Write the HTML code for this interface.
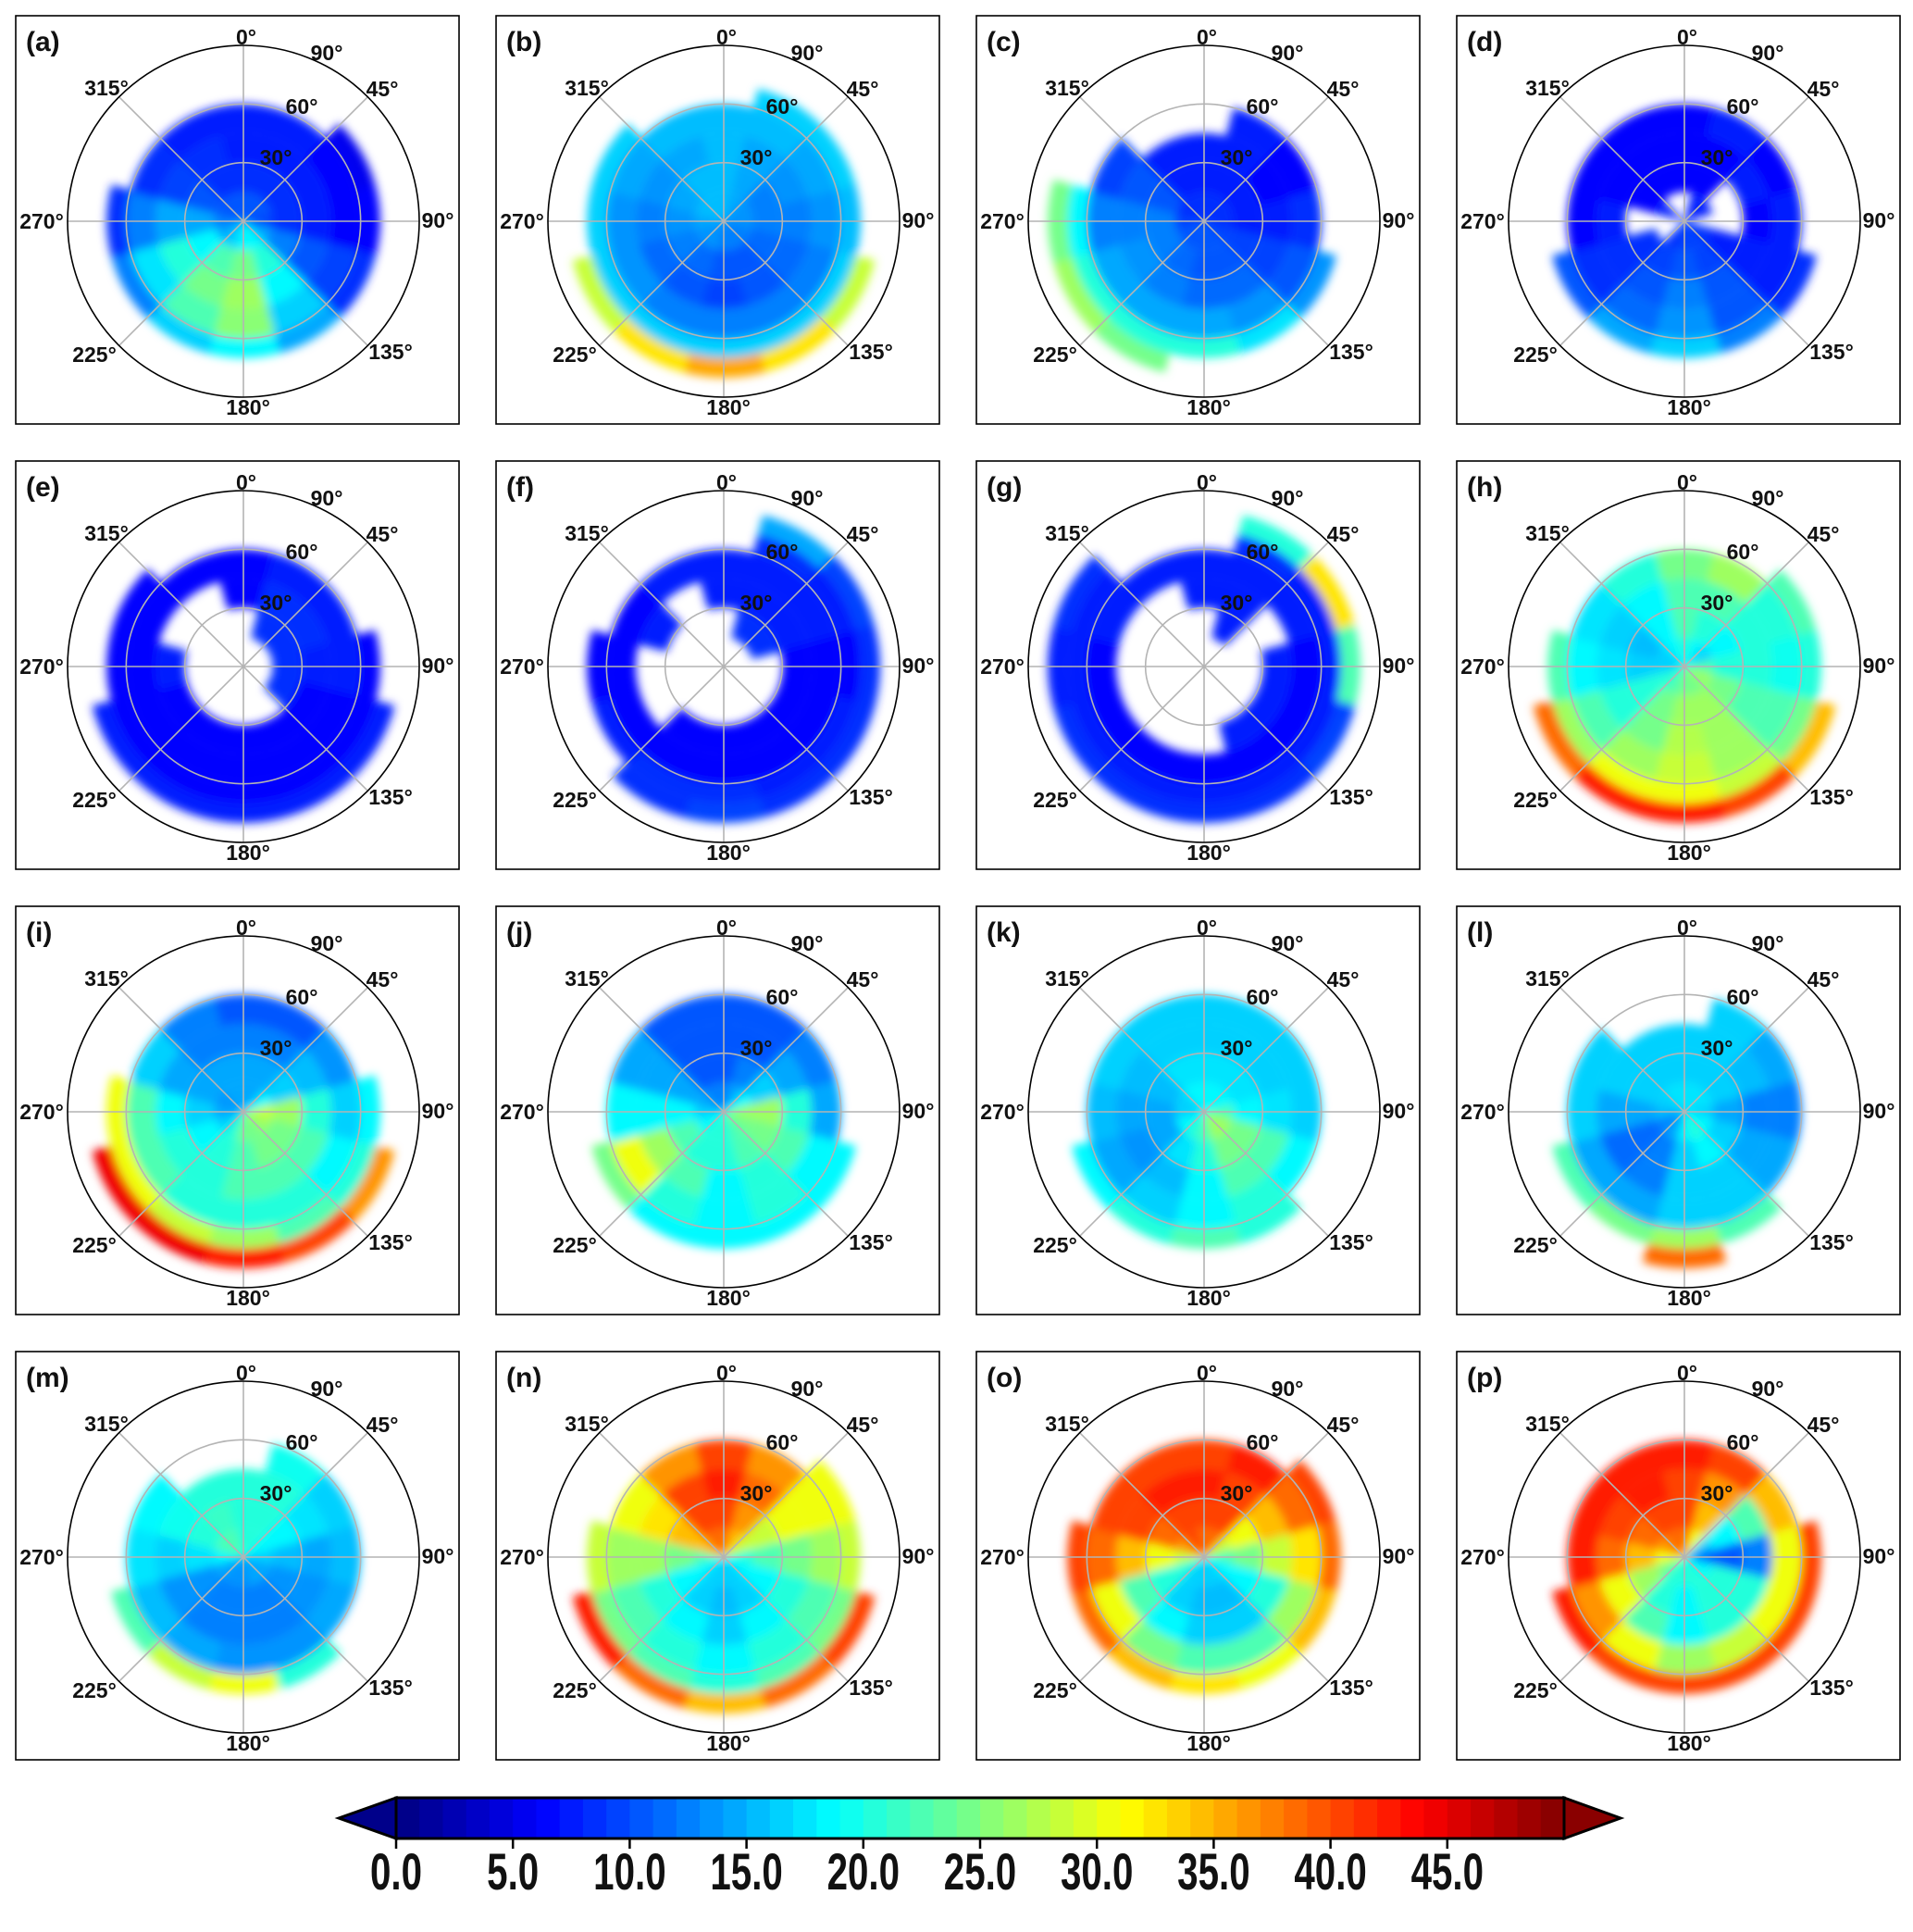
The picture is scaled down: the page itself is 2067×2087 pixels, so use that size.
<!DOCTYPE html>
<html><head><meta charset="utf-8">
<style>
html,body{margin:0;padding:0;background:#fff;}
svg{display:block;}
text{font-family:"Liberation Sans",sans-serif;font-weight:bold;fill:#111;}
</style></head>
<body>
<svg id="fig" width="2067" height="2087" viewBox="0 0 2067 2087" xmlns="http://www.w3.org/2000/svg">
<defs>
<filter id="soft" x="-10%" y="-10%" width="120%" height="120%"><feGaussianBlur stdDeviation="5"/></filter>
</defs>
</svg>
<script>
// azimuth sector centres (deg, clockwise from north) and zenith ring edges (deg)
const sectorAngles = [0,30,60,90,120,150,180,210,240,270,300,330];
const ringEdges = [0,15,30,45,60,70,80];
const panelLabels = ["(a)","(b)","(c)","(d)","(e)","(f)","(g)","(h)","(i)","(j)","(k)","(l)","(m)","(n)","(o)","(p)"];
const N = null;
const panelA = [[10,10,10,9,14,18,18,16,14,12,10,10],[8,8,8,8,12,20,24,22,18,14,10,8],[7,7,7,7,10,18,26,24,20,14,9,8],[7,7,6,6,9,16,25,22,17,12,8,7],[N,N,5,6,8,14,18,16,12,8,N,N],[N,N,N,N,N,N,N,N,N,N,N,N]];
const panelB = [[15,14,13,13,12,12,12,13,13,14,15,15],[15,14,12,12,11,10,10,11,12,13,14,15],[15,14,13,12,11,10,9,10,11,12,13,14],[15,15,14,13,12,12,12,12,13,13,14,15],[N,16,16,15,16,16,16,16,16,16,16,N],[N,N,N,N,28,32,35,32,28,N,N,N]];
const panelC = [[8,8,8,8,9,10,10,10,10,9,8,8],[7,7,7,7,9,10,10,11,12,12,10,7],[7,7,6,7,9,11,11,12,13,12,10,7],[N,7,6,8,10,13,14,14,14,12,9,N],[N,N,N,N,13,17,20,20,20,18,N,N],[N,N,N,N,N,N,N,24,26,24,N,N]];
const panelD = [[N,7,7,N,8,9,9,8,N,N,7,N],[6,6,N,N,7,9,10,9,8,N,6,6],[6,6,7,6,7,10,12,10,8,7,6,6],[6,7,6,7,7,10,13,11,8,6,6,6],[N,N,N,N,8,12,16,14,10,N,N,N],[N,N,N,N,N,N,N,N,N,N,N,N]];
const panelE = [[N,N,N,N,N,N,N,N,N,N,N,N],[N,8,8,8,8,N,N,N,N,N,N,N],[6,8,8,7,6,6,6,6,6,7,N,N],[6,7,7,7,6,6,6,6,6,6,6,6],[N,N,N,6,6,6,6,6,6,6,6,N],[N,N,N,N,7,7,7,7,7,N,N,N]];
const panelF = [[N,N,N,N,N,N,N,N,N,N,N,N],[N,8,8,N,N,N,N,N,N,N,N,N],[7,7,7,6,6,6,6,6,N,N,7,N],[7,7,7,6,6,6,6,6,6,6,6,7],[N,8,7,6,7,7,8,8,7,6,N,N],[N,14,9,8,8,8,9,8,N,N,N,N]];
const panelG = [[N,N,N,N,N,N,N,N,N,N,N,N],[N,7,N,N,N,N,N,N,N,N,N,N],[7,7,N,7,7,7,N,N,N,N,N,N],[7,7,7,6,6,6,6,6,6,6,7,7],[N,8,7,7,7,7,7,7,7,7,7,N],[N,20,32,22,9,8,8,8,8,7,8,N]];
const panelH = [[20,18,16,22,26,24,24,22,20,16,16,18],[22,20,18,20,24,26,26,24,20,16,15,18],[22,22,20,20,22,26,27,24,20,17,16,18],[24,26,20,19,22,26,28,26,22,18,17,20],[N,N,22,20,24,28,30,30,26,22,N,N],[N,N,N,N,34,40,42,42,38,N,N,N]];
const panelI = [[14,14,18,28,26,24,24,20,16,14,13,14],[14,14,16,26,24,24,22,20,18,16,14,14],[12,12,15,20,22,22,22,20,20,18,14,12],[10,10,13,16,18,20,20,20,22,22,16,12],[N,N,N,18,20,22,26,28,30,30,N,N],[N,N,N,N,36,40,42,44,44,N,N,N]];
const panelJ = [[12,14,18,26,24,22,20,20,18,16,14,12],[10,12,16,26,24,22,20,20,22,18,14,10],[10,10,14,20,22,20,18,22,26,18,14,10],[10,10,12,14,18,20,18,20,30,18,14,10],[N,N,N,N,18,18,18,18,24,N,N,N],[N,N,N,N,N,N,N,N,N,N,N,N]];
const panelK = [[18,18,18,22,26,26,22,20,18,16,16,18],[17,17,17,18,24,24,20,17,14,14,15,17],[16,16,16,17,22,22,18,15,13,14,15,16],[16,16,16,16,18,20,18,16,14,15,16,16],[N,N,N,N,N,20,22,20,18,N,N,N],[N,N,N,N,N,N,N,N,N,N,N,N]];
const panelL = [[17,17,17,16,18,20,18,14,12,15,16,17],[16,16,16,14,16,18,16,12,11,14,16,16],[16,16,15,12,14,16,16,12,11,14,16,16],[N,16,14,12,14,16,16,14,14,16,16,N],[N,N,N,N,N,22,26,24,22,N,N,N],[N,N,N,N,N,N,38,N,N,N,N,N]];
const panelM = [[20,20,18,16,14,14,13,13,14,18,22,22],[20,20,18,15,13,12,12,12,13,17,20,21],[20,20,17,14,13,12,12,12,13,16,19,20],[N,19,16,15,14,13,13,14,15,17,18,N],[N,N,N,N,N,20,30,28,22,N,N,N],[N,N,N,N,N,N,N,N,N,N,N,N]];
const panelN = [[38,34,28,20,18,16,16,16,18,22,34,38],[40,36,28,22,18,16,15,16,18,24,34,40],[42,38,30,24,20,18,16,18,20,26,32,40],[40,36,30,26,22,20,18,20,22,26,30,36],[N,N,30,28,24,22,20,22,24,28,N,N],[N,N,N,N,40,38,34,38,42,N,N,N]];
const panelO = [[38,38,28,22,18,16,16,16,20,28,36,40],[40,40,30,24,18,15,15,16,20,30,38,40],[42,40,34,28,20,16,16,18,22,34,40,42],[40,42,38,32,26,22,22,24,30,38,40,40],[N,N,40,38,34,30,32,34,38,40,N,N],[N,N,N,N,N,N,N,N,N,N,N,N]];
const panelP = [[38,30,16,10,18,20,20,20,24,30,36,38],[40,34,18,10,20,20,18,20,26,34,38,40],[40,36,22,12,20,20,18,22,30,38,40,42],[42,40,34,30,30,28,26,30,36,42,42,42],[N,N,N,40,40,40,40,40,42,N,N,N],[N,N,N,N,N,N,N,N,N,N,N,N]];
const panels = [panelA,panelB,panelC,panelD,panelE,panelF,panelG,panelH,panelI,panelJ,panelK,panelL,panelM,panelN,panelO,panelP];
const cbTicks = [0,5,10,15,20,25,30,35,40,45];
const cbTickLabels = ["0.0","5.0","10.0","15.0","20.0","25.0","30.0","35.0","40.0","45.0"];
const cbMin = 0, cbMax = 50, cbLevels = 50;

const NS = "http://www.w3.org/2000/svg";
const svg = document.getElementById('fig');
function mk(tag, attrs, parent){const e=document.createElementNS(NS,tag);for(const k in attrs)e.setAttribute(k,attrs[k]);(parent||svg).appendChild(e);return e;}
function clamp(x){return Math.max(0,Math.min(1,x));}
function jet(v){
  const lvl = Math.min(cbLevels-1, Math.max(0, Math.floor((v-cbMin)/(cbMax-cbMin)*cbLevels)));
  const t = (lvl+0.5)/cbLevels;
  const r=clamp(1.5-Math.abs(4*t-3)), g=clamp(1.5-Math.abs(4*t-2)), b=clamp(1.5-Math.abs(4*t-1));
  return `rgb(${Math.round(r*255)},${Math.round(g*255)},${Math.round(b*255)})`;
}
const R = 190, zenMax = 90;
function rScale(z){return z/zenMax*R;}
function pt(cx,cy,az,z){const a=az*Math.PI/180;const r=rScale(z);return [cx+r*Math.sin(a), cy-r*Math.cos(a)];}
function wedge(cx,cy,a0,a1,z0,z1){
  const p1=pt(cx,cy,a0,z1),p2=pt(cx,cy,a1,z1),p3=pt(cx,cy,a1,z0),p4=pt(cx,cy,a0,z0);
  const r1=rScale(z1), r0=rScale(z0);
  let d=`M${p1[0]},${p1[1]} A${r1},${r1} 0 0 1 ${p2[0]},${p2[1]} L${p3[0]},${p3[1]}`;
  if(r0>0) d+=` A${r0},${r0} 0 0 0 ${p4[0]},${p4[1]}`;
  return d+'Z';
}
const labelPos = [["0°",3,-199],["90°",90,-182],["45°",150,-143],["315°",-148,-144],["60°",63,-124],["30°",35,-69],["270°",-218,0],["90°",210,-1],["225°",-161,144],["135°",159,141],["180°",5,201]];

panels.forEach((grid,i)=>{
  const col=i%4,row=Math.floor(i/4);
  const bx=17+col*519, by=17+row*481;
  const g=mk('g',{});
  
  
  const frame=mk('rect',{x:bx,y:by,width:479,height:441,fill:'#fff',stroke:'#000','stroke-width':1.6},g);
  
  
  const cx=bx+246, cy=by+222;
  const clipId='clip'+i;
  const cp=mk('clipPath',{id:clipId},g); mk('circle',{cx:cx,cy:cy,r:R},cp);
  const dg=mk('g',{'clip-path':`url(#${clipId})`},g);
  const heat=mk('g',{filter:'url(#soft)'},dg);
  
  
  grid.forEach((ring,ri)=>{
    ring.forEach((v,si)=>{
      if(v===null) return;
      const a=sectorAngles[si];
      const p=mk('path',{d:wedge(cx,cy,a-15.5,a+15.5,ringEdges[ri],ringEdges[ri+1]),fill:jet(v)},heat);
      
      
    });
  });
  [30,60].forEach(z=>mk('circle',{cx:cx,cy:cy,r:rScale(z),fill:'none',stroke:'#b4b4b4','stroke-width':1.6},g));
  for(let a=0;a<180;a+=45){const p=pt(cx,cy,a,90),q=pt(cx,cy,a+180,90);mk('line',{x1:p[0],y1:p[1],x2:q[0],y2:q[1],stroke:'#b4b4b4','stroke-width':1.6},g);}
  const oc=mk('circle',{cx:cx,cy:cy,r:R,fill:'none',stroke:'#000','stroke-width':1.6},g);
  
  
  labelPos.forEach(l=>{
    const t=mk('text',{x:cx+l[1],y:cy+l[2]+8,'text-anchor':'middle','font-size':23},g);
    t.textContent=l[0];
    
    
  });
  const pl=mk('text',{x:bx+11,y:by+38,'font-size':30,fill:'#333'},g);
  pl.textContent=panelLabels[i];
  
  
});

const cbX0=428, cbX1=1690, cbY0=1942, cbY1=1986;
function cbScale(v){return cbX0+(v-cbMin)/(cbMax-cbMin)*(cbX1-cbX0);}
const cb=mk('g',{});


const lvw=(cbX1-cbX0)/cbLevels;
for(let k=0;k<cbLevels;k++){
  const v=cbMin+(k+0.5)*(cbMax-cbMin)/cbLevels;
  const r=mk('rect',{x:cbScale(cbMin+k*(cbMax-cbMin)/cbLevels),y:cbY0,width:lvw+0.6,height:cbY1-cbY0,fill:jet(v)},cb);
  
  
}
const lt=mk('path',{d:`M${cbX0},${cbY0} L366,${(cbY0+cbY1)/2} L${cbX0},${cbY1}Z`,fill:jet(0),stroke:'#000','stroke-width':3},cb);


const rt=mk('path',{d:`M${cbX1},${cbY0} L1751,${(cbY0+cbY1)/2} L${cbX1},${cbY1}Z`,fill:jet(49.9),stroke:'#000','stroke-width':3},cb);


mk('rect',{x:cbX0,y:cbY0,width:cbX1-cbX0,height:cbY1-cbY0,fill:'none',stroke:'#000','stroke-width':3},cb);
cbTicks.forEach((v,k)=>{
  const x=cbScale(v);
  mk('line',{x1:x,y1:cbY1,x2:x,y2:cbY1+11,stroke:'#000','stroke-width':2.5},cb);
  const t=mk('text',{x:0,y:0,'text-anchor':'middle','font-size':56,fill:'#000',transform:`translate(${x},2041) scale(0.72,1)`},cb);
  t.textContent=cbTickLabels[k];
  
  
});
</script>
</body></html>
